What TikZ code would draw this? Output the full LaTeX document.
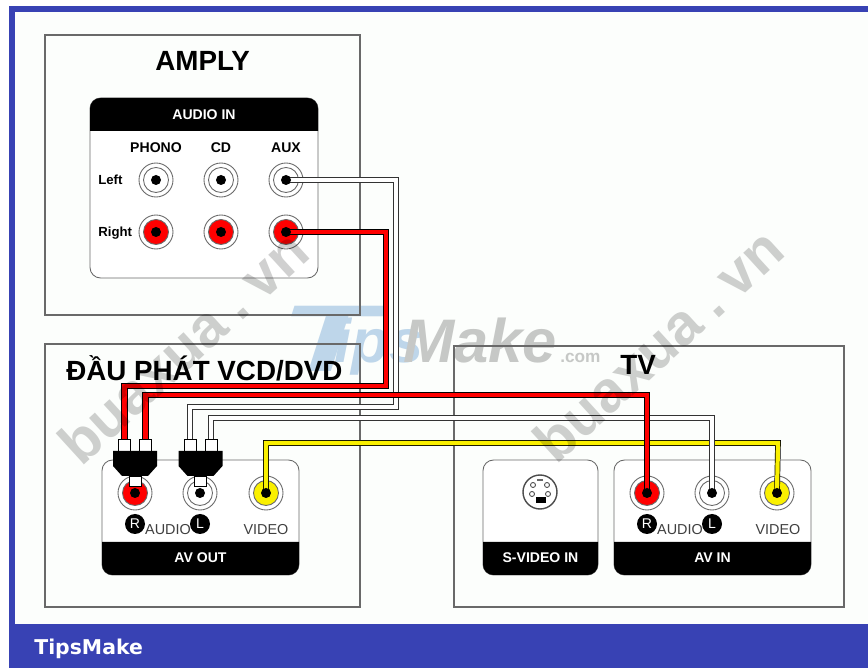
\documentclass[tikz,border=0pt]{standalone}
\usepackage{fontspec}
\setmainfont{Liberation Sans}
\newfontfamily\barfont{DejaVu Sans}
\usetikzlibrary{calc}

\definecolor{tipsblue}{RGB}{56,66,180}
\definecolor{logoblue}{RGB}{190,214,234}
\definecolor{logogray}{RGB}{198,200,198}
\definecolor{markgray}{RGB}{208,208,208}
\definecolor{paper}{RGB}{252,254,252}
\definecolor{boxline}{RGB}{105,105,105}
\definecolor{plugyellow}{RGB}{250,240,0}

\tikzset{
  unitbox/.style={draw=boxline, line width=0.8pt},
  panelline/.style={draw=boxline, line width=0.5pt},
  jackring/.style={circle, draw=boxline, line width=0.5pt, fill=white, minimum size=6.8mm, inner sep=0pt},
  jackcore/.style={circle, draw=boxline, line width=0.5pt, minimum size=5mm, inner sep=0pt},
  jackpin/.style={circle, fill=black, minimum size=2mm, inner sep=0pt},
  plugtip/.style={draw=black, line width=0.4pt, fill=white, minimum width=2.4mm, minimum height=2.4mm, inner sep=0pt},
  redcable/.style={draw=black, line width=0.4pt, double=red, double distance=2.8pt},
  whitecable/.style={draw=black!80, line width=0.4pt, double=white, double distance=2.4pt},
  yellowcable/.style={draw=black, line width=0.4pt, double=plugyellow, double distance=2.4pt},
  unittitle/.style={font=\fontsize{15.8}{15.8}\selectfont\bfseries, anchor=base west, inner sep=0pt},
  bandtext/.style={font=\fontsize{8}{8}\selectfont\bfseries, text=white, inner sep=0pt},
  smalltext/.style={font=\fontsize{8}{8}\selectfont\bfseries, inner sep=0pt},
  sidetext/.style={font=\fontsize{7.5}{7.5}\selectfont\bfseries, anchor=base west, inner sep=0pt},
  plaintext/.style={font=\fontsize{8.2}{8.2}\selectfont, text=black!75, anchor=base, inner sep=0pt},
  sidebadge/.style={circle, fill=black, text=white, minimum size=4mm, inner sep=0pt, font=\fontsize{8}{8}\selectfont},
  watermark/.style={font=\fontsize{33}{33}\selectfont\bfseries, text=markgray, rotate=42.4, inner sep=0pt, blend mode=multiply},
}

\begin{document}
\begin{tikzpicture}[x=0.2mm, y=-0.2mm]
\useasboundingbox (0,0) rectangle (868,668);

% frame
\fill[white] (0,0) rectangle (868,668);
\fill[tipsblue] (9,6) rectangle (868,668);
\fill[paper] (15,12) rectangle (868,624);
\node[font=\barfont\fontsize{11.6}{11.6}\selectfont\bfseries, text=white, anchor=base west, inner sep=0pt] (barname) at (34,655) {TipsMake};

% logo
\node[font=\fontsize{54}{54}\selectfont\bfseries\itshape, text=logoblue, xscale=1.65, anchor=base, inner sep=0pt] (logot) at (328,372) {T};
\node[font=\fontsize{35}{35}\selectfont\bfseries\itshape, text=logoblue, anchor=base west, inner sep=0pt] (logotips) at (334,363) {ips};
\node[font=\fontsize{35}{35}\selectfont\bfseries\itshape, text=logogray, anchor=base west, inner sep=0pt] (logomake) at (403,363) {Make};
\node[font=\fontsize{9.8}{9.8}\selectfont\bfseries, text=logogray, anchor=base west, inner sep=0pt] (logocom) at (560,363) {.com};

% boxes
\draw[unitbox] (45,35) rectangle (360,315);
\draw[unitbox] (45,344) rectangle (360,607);
\draw[unitbox] (454,346) rectangle (844,607);
\node[unittitle] (amply) at (155,71) {AMPLY};
\node[unittitle] (player) at (66,381) {ĐẦU PHÁT VCD/DVD};
\node[unittitle] (tv) at (620,375) {TV};

% panels
\draw[panelline, fill=white, rounded corners=6pt] (90,98) rectangle (318,278);
\fill[rounded corners=6pt] (90,131) |- (318,98) -- (318,131);
\node[bandtext] (audioin) at (204,115) {AUDIO IN};

\foreach \panel/\xa/\xb/\txt in {avout/102/299/AV OUT, svideo/483/598/S-VIDEO IN, avin/614/811/AV IN}{
  \draw[panelline, fill=white, rounded corners=6pt] (\xa,460) rectangle (\xb,575);
  \fill[rounded corners=6pt] (\xa,542) -- (\xa,575) -| (\xb,542);
  \node[bandtext] (\panel) at ({(\xa+\xb)/2},558) {\txt};
}

% amply labels
\node[smalltext] (phono) at (156,148) {PHONO};
\node[smalltext] (cd) at (221,148) {CD};
\node[smalltext] (aux) at (286,148) {AUX};
\node[sidetext] (left) at (98,185) {Left};
\node[sidetext] (right) at (98,237) {Right};

% jacks
\foreach \jack/\x/\y/\col in {phonol/156/180/white, cdl/221/180/white, auxl/286/180/white,
    phonor/156/232/red, cdr/221/232/red, auxr/286/232/red,
    dvdr/135/493/red, dvdl/200/493/white, dvdv/266/493/plugyellow,
    tvr/647/493/red, tvl/712/493/white, tvv/777/493/plugyellow}{
  \node[jackring] (\jack) at (\x,\y) {};
  \node[jackcore, fill=\col] (\jack core) at (\x,\y) {};
}

% s-video socket
\node[jackring, draw=black!70, line width=0.8pt] (svideosock) at (540,492) {};
\foreach \pin/\x/\y in {a/533/485, b/547/485, c/532/494, d/548/494}{
  \node[circle, draw=black!70, line width=0.5pt, minimum size=1mm, inner sep=0pt] (svideo\pin) at (\x,\y) {};
}
\fill[black!60] (537,479) rectangle (543,481);
\node[fill=black, minimum width=2mm, minimum height=1.3mm, inner sep=0pt] (svideokey) at (541,500) {};

% cables
\coordinate (whitebend) at (396,407);
\coordinate (redbend) at (386,386);
\coordinate (tvrbend) at (647,395);
\coordinate (tvlbend) at (712,418);
\coordinate (tvvbend) at (778,443);

\foreach \plug/\x in {r/135, l/200.5}{
  \node[plugtip] (plug\plug a) at ({\x-10.5},445) {};
  \node[plugtip] (plug\plug b) at ({\x+10.5},445) {};
}

\draw[yellowcable] (dvdv.center) |- (tvvbend) -- (tvv.center);
\draw[whitecable] (auxl.center) -| (whitebend) -| (plugla.north);
\draw[whitecable] (pluglb.north) |- (tvlbend) -- (tvl.center);
\draw[redcable] (auxr.center) -| (redbend) -| (plugra.north);
\draw[redcable] (plugrb.north) |- (tvrbend) -- (tvr.center);

\foreach \jack in {phonol, cdl, auxl, phonor, cdr, auxr, dvdr, dvdl, dvdv, tvr, tvl, tvv}{
  \node[jackpin] (\jack pin) at (\jack) {};
}

% plugs
\foreach \plug/\x in {r/135, l/200.5}{
  \fill ({\x-22},451) -- ({\x+22},451) -- ({\x+22},466) -- ({\x+13},476) -- ({\x-13},476) -- ({\x-22},466) -- cycle;
  \node[plugtip, minimum height=2mm] (plug\plug tip) at (\x,481) {};
}

% socket labels
\foreach \side/\x in {dvd/135, tv/647}{
  \node[sidebadge] (\side rbadge) at (\x,524) {R};
  \node[sidebadge] (\side lbadge) at ({\x+65},524) {L};
  \node[plaintext] (\side audio) at ({\x+33},535) {AUDIO};
  \node[plaintext] (\side video) at ({\x+131},535) {VIDEO};
}

% watermarks
\node[watermark] (markleft) at (183,347) {buaxua\hspace{0.22em}.\hspace{0.22em}vn};
\node[watermark] (markright) at (658,345) {buaxua\hspace{0.22em}.\hspace{0.22em}vn};

\end{tikzpicture}
\end{document}
